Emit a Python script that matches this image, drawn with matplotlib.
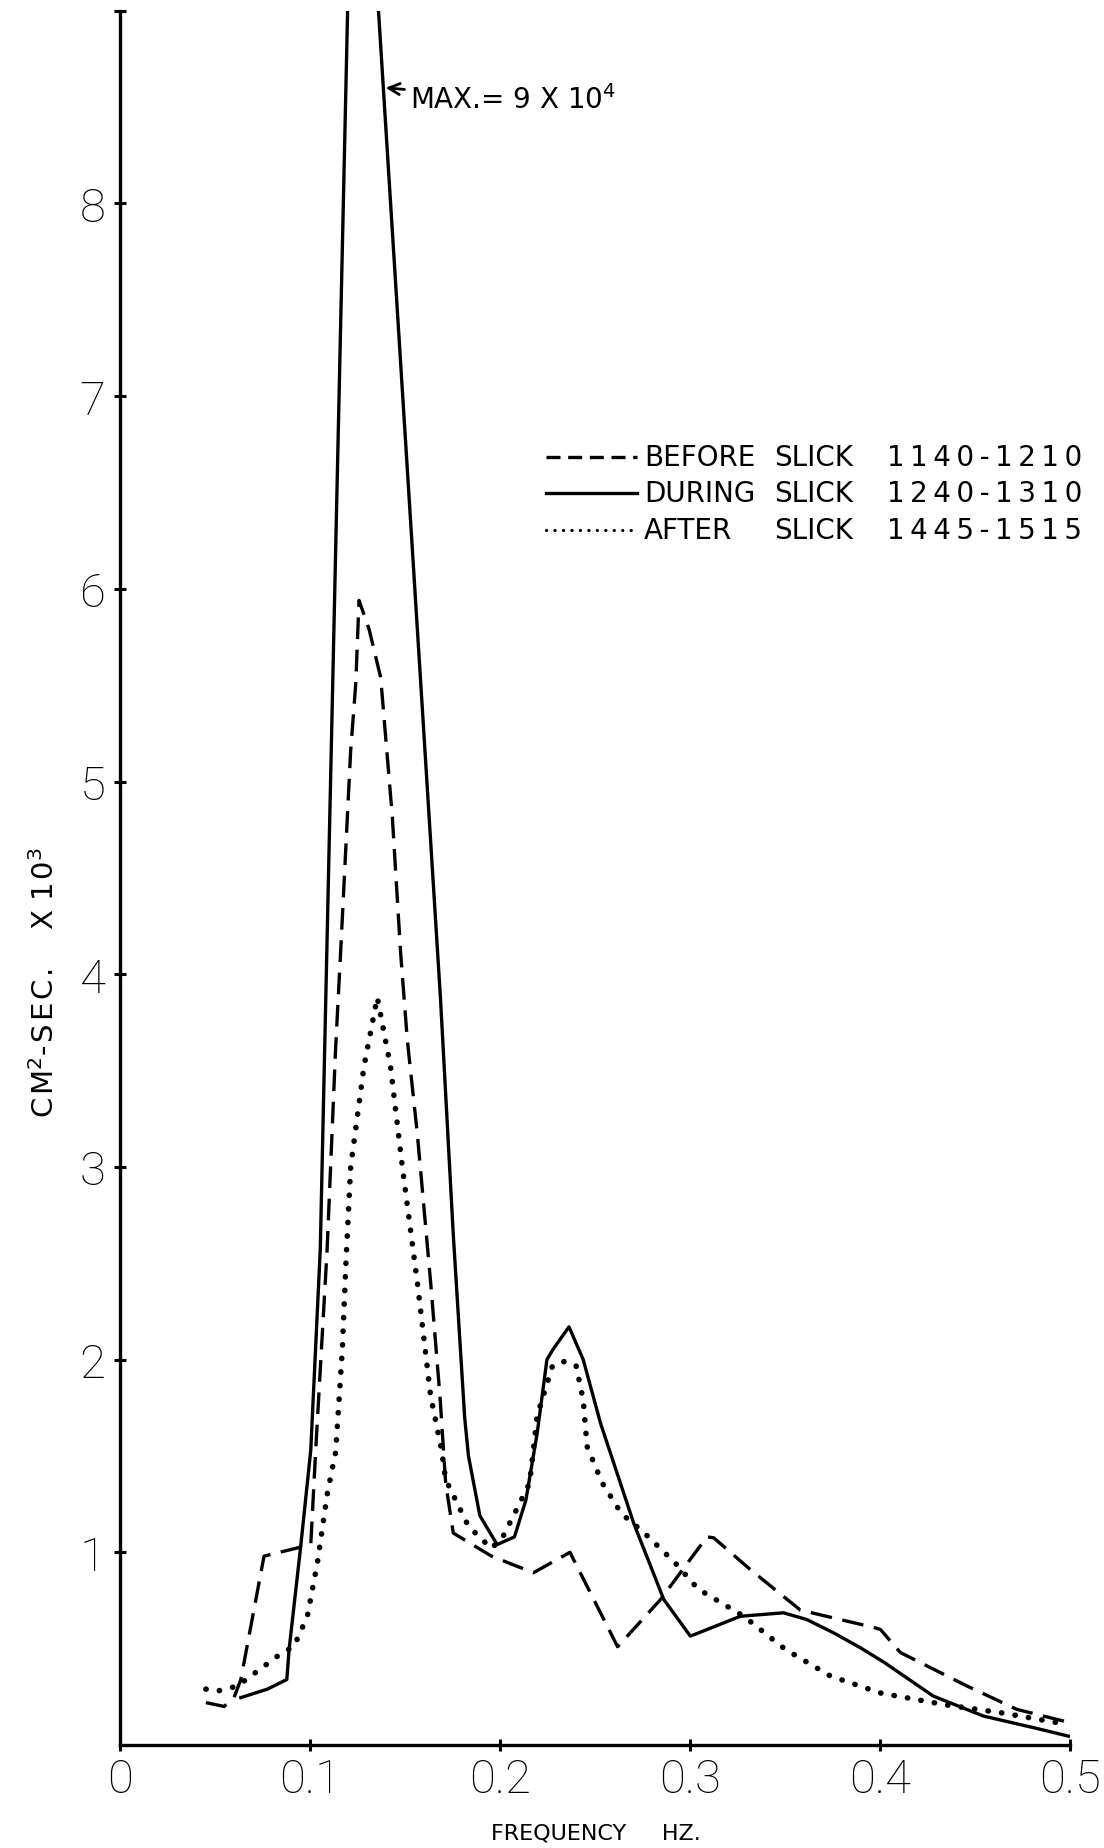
import matplotlib
matplotlib.use("Agg")
import matplotlib.pyplot as plt
from matplotlib.lines import Line2D

# ---- data (frequency in Hz, spectral density in cm^2-sec x 10^3) ----
before_x = [0.0452, 0.0548, 0.0600, 0.0636, 0.0758, 0.1004, 0.1030, 0.1090, 0.1135, 0.1162,
            0.1214, 0.1241, 0.1258, 0.1311, 0.1372, 0.1433, 0.1477, 0.1512, 0.1565, 0.1635,
            0.1684, 0.1714, 0.1754, 0.1955, 0.2176, 0.2368, 0.2619, 0.2845, 0.3089, 0.3125,
            0.3318, 0.3581, 0.3967, 0.4002, 0.4107, 0.4458, 0.4720, 0.5000]
before_y = [0.22, 0.20, 0.246, 0.34, 0.98, 1.04, 1.53, 2.57, 3.62, 4.13,
            5.16, 5.51, 5.94, 5.79, 5.54, 4.82, 4.11, 3.66, 3.17, 2.40,
            1.81, 1.36, 1.10, 0.98, 0.894, 1.00, 0.51, 0.755, 1.08, 1.075,
            0.91, 0.70, 0.61, 0.60, 0.48, 0.306, 0.185, 0.116]

during_x = [0.0636, 0.0776, 0.0878, 0.0890, 0.0951, 0.1004, 0.1054, 0.1135, 0.1197, 0.1240,
            0.1363, 0.1539, 0.1687, 0.1754, 0.1814, 0.1834, 0.1894, 0.1985, 0.2076, 0.2136,
            0.2196, 0.2247, 0.2277, 0.2363, 0.2438, 0.2529, 0.2704, 0.2862, 0.3002, 0.3265,
            0.3492, 0.3615, 0.3756, 0.3896, 0.4020, 0.4280, 0.4545, 0.4808, 0.4992]
during_y = [0.246, 0.29, 0.34, 0.496, 1.03, 1.53, 2.57, 6.20, 8.96, 10.9,
            8.96, 6.20, 3.87, 2.65, 1.70, 1.50, 1.19, 1.04, 1.08, 1.27,
            1.62, 2.00, 2.05, 2.17, 2.00, 1.67, 1.15, 0.755, 0.565, 0.668,
            0.686, 0.651, 0.582, 0.505, 0.43, 0.254, 0.15, 0.09, 0.046]

after_x = [0.0452, 0.0513, 0.0618, 0.0689, 0.0829, 0.0916, 0.0986, 0.1039, 0.1092, 0.1135,
           0.1170, 0.1190, 0.1214, 0.1284, 0.1354, 0.1424, 0.1486, 0.1565, 0.1635, 0.1693,
           0.1713, 0.1834, 0.1955, 0.2015, 0.2076, 0.2156, 0.2196, 0.2277, 0.2338, 0.2400,
           0.2438, 0.2458, 0.2538, 0.2640, 0.2760, 0.2921, 0.3042, 0.3283, 0.3502, 0.3739,
           0.4002, 0.4335, 0.4633, 0.4984]
after_y = [0.29, 0.28, 0.306, 0.358, 0.461, 0.513, 0.668, 0.946, 1.31, 1.52,
           2.05, 2.52, 3.00, 3.52, 3.88, 3.52, 3.00, 2.40, 1.81, 1.53,
           1.38, 1.135, 1.02, 1.08, 1.20, 1.36, 1.71, 1.97, 1.99, 1.97,
           1.79, 1.55, 1.36, 1.20, 1.10, 0.946, 0.81, 0.668, 0.496, 0.358,
           0.27, 0.21, 0.168, 0.107]

x_ticks = [0, 0.1, 0.2, 0.3, 0.4, 0.5]
x_tick_labels = ["0", "0.1", "0.2", "0.3", "0.4", "0.5"]
y_ticks = [1, 2, 3, 4, 5, 6, 7, 8, 9]
y_tick_labels = ["1", "2", "3", "4", "5", "6", "7", "8", ""]

legend_rows = [("BEFORE", "SLICK", "1140-1210"),
               ("DURING", "SLICK", "1240-1310"),
               ("AFTER", "SLICK", "1445-1515")]

max_text = "MAX.= 9 X 10"
max_exp = "4"
max_point = (0.1398, 8.60)

TXT = ["DejaVu Sans"]
NUM = ["Roboto", "DejaVu Sans"]
plt.rcParams["font.family"] = TXT
plt.rcParams["mathtext.fontset"] = "dejavusans"


def spaced(s, sep="\u200a"):
    return sep.join(s)


W, H = 1104, 1849
fig = plt.figure(figsize=(W / 100, H / 100), dpi=100)
fig.patch.set_facecolor("white")

ax_left, ax_right, ax_bottom_px, ax_top_px = 120, 1070, 1746, 11.7
ax = fig.add_axes([ax_left / W, 1 - ax_bottom_px / H,
                   (ax_right - ax_left) / W, (ax_bottom_px - ax_top_px) / H])

lw = 2.4
ax.plot(before_x, before_y, color="black", lw=lw, linestyle=(0, (6.5, 3.2)))
ax.plot(during_x, during_y, color="black", lw=lw, linestyle="-")
ax.plot(after_x, after_y, color="black", lw=4.0, linestyle=(0, (0.05, 2.4)),
        dash_capstyle="round")

ax.set_xlim(0, 0.5)
ax.set_ylim(0, 9.0)
for s in ["top", "right"]:
    ax.spines[s].set_visible(False)
for s in ["left", "bottom"]:
    ax.spines[s].set_linewidth(2.4)

ax.set_xticks(x_ticks)
ax.set_xticklabels(x_tick_labels)
ax.set_yticks(y_ticks)
ax.set_yticklabels(y_tick_labels)
ax.tick_params(axis="both", direction="inout", length=9, width=2.2,
               labelsize=34, pad=6)
ax.tick_params(axis="x", pad=4)
for lab in ax.get_xticklabels() + ax.get_yticklabels():
    lab.set_family(NUM)
    lab.set_fontweight("light")

ax.set_xlabel("FREQUENCY     HZ.", fontsize=16)
ax.xaxis.label.set_va("center")
ax.xaxis.set_label_coords(0.501, -0.0507)

ax.set_ylabel(spaced("CM") + "$^{2}$" + spaced("-SEC.") + "    X " + spaced("10") + "$^{3}$",
              fontsize=21)
ax.yaxis.label.set_va("center")
ax.yaxis.set_label_coords(-0.079, 0.44)

ax.annotate(max_text + "$^{" + max_exp + "}$", xy=max_point,
            xytext=(410 / W, 1 - 100 / H),
            textcoords="figure fraction", fontsize=20,
            va="center", ha="left",
            arrowprops=dict(arrowstyle="->", color="black", lw=2.0,
                            shrinkA=2, shrinkB=0))

# legend drawn as rows of text with sample lines
row_y = [458, 494, 531]
styles = [dict(lw=lw, linestyle=(0, (4.2, 2.3))),
          dict(lw=lw, linestyle="-"),
          dict(lw=2.3, linestyle=(0, (0.05, 2.6)), dash_capstyle="round")]
for (w1, w2, w3), yy, st in zip(legend_rows, row_y, styles):
    fy = 1 - yy / H
    fig.add_artist(Line2D([546 / W, 637 / W], [fy, fy], color="black",
                          transform=fig.transFigure, **st))
    fig.text(644 / W, fy, w1, fontsize=20, va="center", ha="left")
    fig.text(774 / W, fy, w2, fontsize=20, va="center", ha="left")
    fig.text(887 / W, fy, spaced(w3, "\u2009"), fontsize=20, va="center", ha="left")

fig.savefig("out.png", dpi=100, facecolor="white")
